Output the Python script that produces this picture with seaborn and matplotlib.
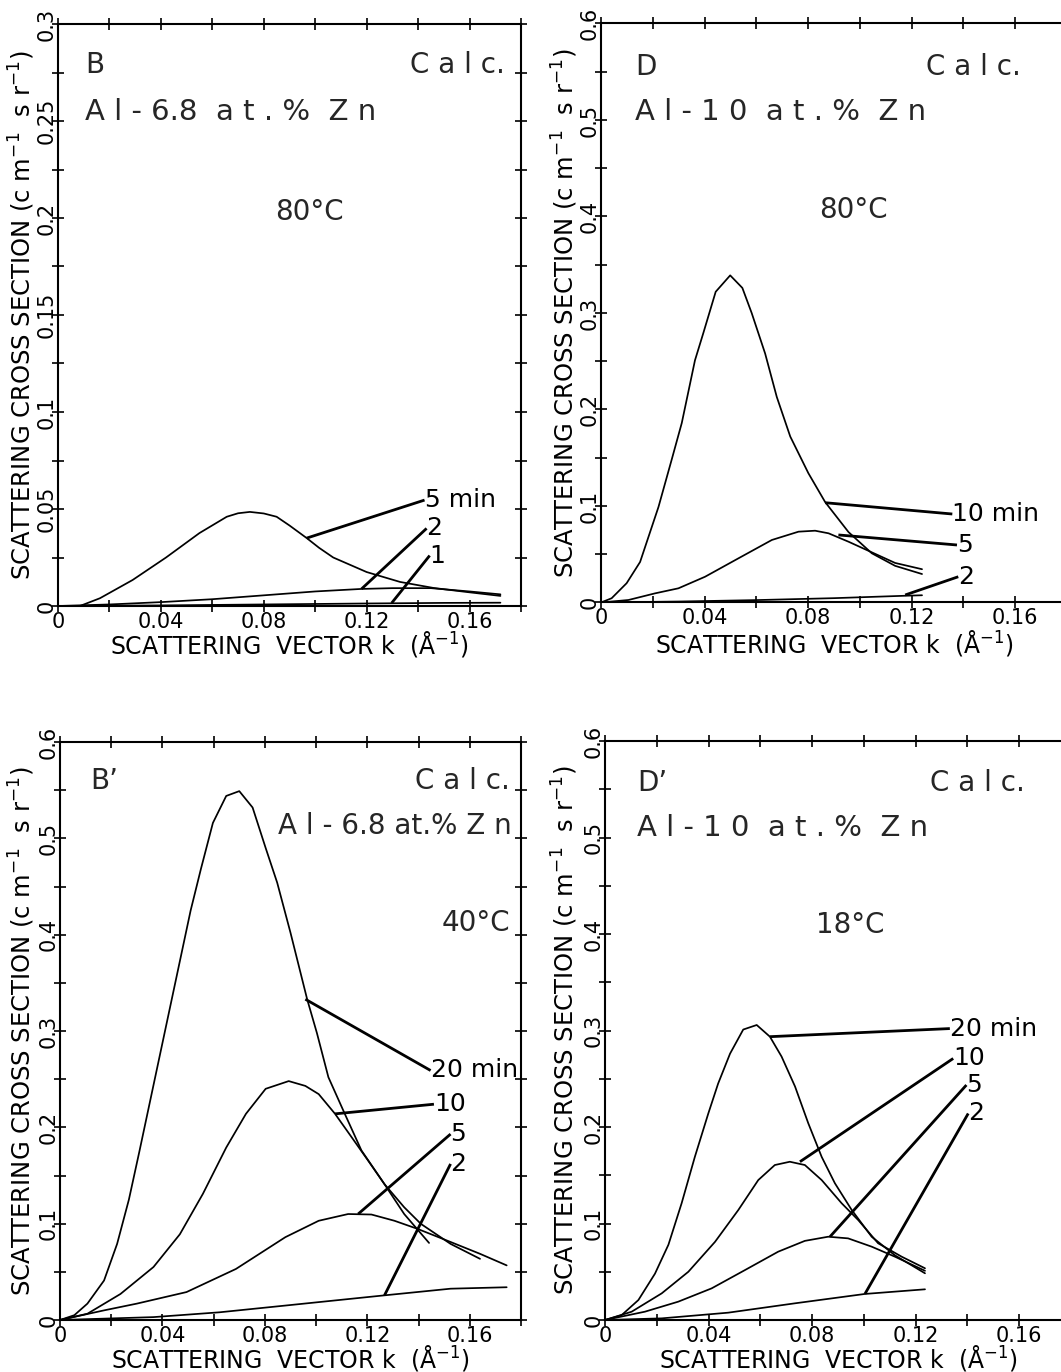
import matplotlib
matplotlib.use("Agg")
import matplotlib.pyplot as plt
import seaborn as sns
import pandas as pd
from matplotlib.ticker import MultipleLocator, FixedLocator, FixedFormatter

# ---------------- data ----------------
# Panel B : Al-6.8 at.% Zn, 80 C
B5_k = [0.0, 0.0085, 0.0163, 0.029, 0.042, 0.055, 0.0656, 0.070, 0.0746, 0.080, 0.085, 0.090, 0.0967, 0.1015,
        0.107, 0.120, 0.133, 0.146, 0.159, 0.172]
B5_v = [0.0, 0.0, 0.004, 0.0134, 0.025, 0.0376, 0.046, 0.0478, 0.0485, 0.0477, 0.046, 0.0415, 0.035, 0.030,
        0.025, 0.0175, 0.0124, 0.0093, 0.0072, 0.0052]
B2_k = [0.0, 0.02, 0.04, 0.06, 0.08, 0.10, 0.118, 0.13, 0.145, 0.16, 0.172]
B2_v = [0.0, 0.0008, 0.002, 0.0035, 0.0055, 0.0075, 0.0088, 0.0092, 0.0092, 0.0075, 0.006]
B1_k = [0.0, 0.04, 0.08, 0.12, 0.15, 0.172]
B1_v = [0.0, 0.0003, 0.0008, 0.0013, 0.0016, 0.0017]

# Panel D : Al-10 at.% Zn, 80 C
D10_k = [0.0, 0.0041, 0.0099, 0.0151, 0.0222, 0.0273, 0.0312, 0.0363, 0.0395, 0.0443, 0.0499, 0.0546, 0.0582,
         0.0634, 0.0679, 0.0731, 0.0801, 0.0866, 0.0956, 0.1046, 0.1136, 0.124]
D10_v = [0.0, 0.0044, 0.020, 0.042, 0.099, 0.148, 0.186, 0.251, 0.279, 0.322, 0.339, 0.326, 0.300,
         0.258, 0.213, 0.172, 0.134, 0.104, 0.073, 0.051, 0.038, 0.0295]
D5_k = [0.0, 0.0106, 0.0209, 0.0299, 0.0402, 0.0531, 0.066, 0.0763, 0.0827, 0.0879, 0.0956, 0.1046, 0.1136, 0.124]
D5_v = [0.0, 0.0026, 0.0095, 0.0147, 0.0267, 0.0458, 0.0648, 0.0734, 0.0744, 0.0717, 0.063, 0.052, 0.041, 0.0345]
D2_k = [0.0, 0.03, 0.06, 0.09, 0.1175, 0.124]
D2_v = [0.0, 0.001, 0.0025, 0.0045, 0.007, 0.0075]

# Panel B' : Al-6.8 at.% Zn, 40 C
P20_k = [0.0, 0.0056, 0.0107, 0.0172, 0.0223, 0.0269, 0.031, 0.035, 0.039, 0.043, 0.047, 0.051, 0.055,
         0.0597, 0.0649, 0.070, 0.0752, 0.0803, 0.0848, 0.090, 0.0965, 0.1003, 0.1048, 0.1112, 0.1177,
         0.1267, 0.1344, 0.1441]
P20_v = [0.0, 0.005, 0.017, 0.041, 0.079, 0.125, 0.175, 0.225, 0.275, 0.325, 0.375, 0.425, 0.468,
         0.516, 0.544, 0.549, 0.532, 0.490, 0.454, 0.402, 0.333, 0.298, 0.252, 0.214, 0.176,
         0.141, 0.110, 0.080]
P10_k = [0.0, 0.0107, 0.0236, 0.0365, 0.0468, 0.0558, 0.0649, 0.0726, 0.0803, 0.0893, 0.0958, 0.101, 0.1074,
         0.1138, 0.1203, 0.1267, 0.1344, 0.1409, 0.1525, 0.164]
P10_v = [0.0, 0.0065, 0.027, 0.055, 0.089, 0.131, 0.179, 0.214, 0.240, 0.248, 0.243, 0.2345, 0.214,
         0.19, 0.1655, 0.141, 0.117, 0.0998, 0.079, 0.0635]
P5_k = [0.0, 0.0172, 0.030, 0.0494, 0.0687, 0.088, 0.101, 0.1125, 0.1216, 0.1306, 0.1396, 0.1525, 0.164, 0.1744]
P5_v = [0.0, 0.010, 0.017, 0.029, 0.053, 0.086, 0.103, 0.110, 0.1095, 0.103, 0.0946, 0.081, 0.0687, 0.0567]
P2_k = [0.0, 0.0365, 0.0623, 0.088, 0.1267, 0.1525, 0.1744]
P2_v = [0.0, 0.003, 0.008, 0.015, 0.0256, 0.0325, 0.034]

# Panel D' : Al-10 at.% Zn, 18 C
Q20_k = [0.0, 0.0064, 0.0129, 0.0193, 0.0245, 0.0296, 0.0347, 0.0399, 0.0437, 0.0483, 0.0534, 0.0586, 0.0637,
         0.0682, 0.0734, 0.0785, 0.0837, 0.0888, 0.0953, 0.103, 0.112, 0.1236]
Q20_v = [0.0, 0.005, 0.0207, 0.048, 0.078, 0.121, 0.169, 0.214, 0.245, 0.276, 0.301, 0.3057, 0.2936,
         0.273, 0.242, 0.204, 0.169, 0.1417, 0.114, 0.0863, 0.067, 0.0484]
Q10_k = [0.0, 0.0103, 0.0219, 0.0322, 0.0425, 0.0515, 0.0592, 0.0656, 0.0714, 0.0772, 0.0837, 0.0914, 0.0978,
         0.1055, 0.1146, 0.1236]
Q10_v = [0.0, 0.0086, 0.0276, 0.050, 0.081, 0.114, 0.145, 0.1606, 0.164, 0.1606, 0.145, 0.121, 0.1036,
         0.0795, 0.0656, 0.0536]
Q5_k = [0.0, 0.0154, 0.0283, 0.0412, 0.0541, 0.0669, 0.0772, 0.0862, 0.0939, 0.103, 0.112, 0.1236]
Q5_v = [0.0, 0.0086, 0.019, 0.0328, 0.0518, 0.0708, 0.082, 0.0863, 0.0846, 0.076, 0.0656, 0.0510]
Q2_k = [0.0, 0.0219, 0.0476, 0.0734, 0.1004, 0.1236]
Q2_v = [0.0, 0.0017, 0.0076, 0.0173, 0.027, 0.0318]

# ticks
x_ticks = [0.0, 0.04, 0.08, 0.12, 0.16]
x_ticklabels = ["0", "0.04", "0.08", "0.12", "0.16"]
yB_ticks = [0.0, 0.05, 0.10, 0.15, 0.20, 0.25, 0.30]
yB_ticklabels = ["0", "0.05", "0.1", "0.15", "0.2", "0.25", "0.3"]
y6_ticks = [0.0, 0.1, 0.2, 0.3, 0.4, 0.5, 0.6]
y6_ticklabels = ["0", "0.1", "0.2", "0.3", "0.4", "0.5", "0.6"]

# curve labels (time in min)
B_times = ["5 min", "2", "1"]
D_times = ["10 min", "5", "2"]
P_times = ["20 min", "10", "5", "2"]
Q_times = ["20 min", "10", "5", "2"]

# ---------------- figure ----------------
sns.set_theme(style="ticks")
plt.rcParams["font.family"] = ["DejaVu Sans"]
plt.rcParams["mathtext.fontset"] = "dejavusans"

W, H = 1061, 1372
fig = plt.figure(figsize=(W / 100, H / 100), dpi=100)
fig.patch.set_facecolor("white")


def axes_px(x0, y0, x1, y1):
    # pixel box (left, bottom-of-data, right, top) -> figure fraction
    return fig.add_axes([x0 / W, 1 - y0 / H, (x1 - x0) / W, (y0 - y1) / H])


axB = axes_px(58, 606, 521, 24)
axD = axes_px(601, 602.5, 1067, 23.5)
axP = axes_px(60, 1320, 521, 742)
axQ = axes_px(605, 1320, 1071, 741)

TXT = "black"
lw_curve = 1.25
lw_lead = 2.0

XLAB = r"SCATTERING  VECTOR k  (Å$^{-1}$)"
YLAB = r"SCATTERING CROSS SECTION (c m$^{-1}$  s r$^{-1}$)"


def style_axis(ax, ymax, yticks, ylabels, yminor, ylab_x, xlab_y):
    ax.set_xlim(0, 0.18)
    ax.set_ylim(0, ymax)
    ax.set_facecolor("white")
    for s in ax.spines.values():
        s.set_visible(True)
        s.set_linewidth(1.5)
        s.set_color("black")
    ax.xaxis.set_major_locator(FixedLocator(x_ticks))
    ax.xaxis.set_major_formatter(FixedFormatter(x_ticklabels))
    ax.xaxis.set_minor_locator(MultipleLocator(0.02))
    ax.yaxis.set_major_locator(FixedLocator(yticks))
    ax.yaxis.set_major_formatter(FixedFormatter(ylabels))
    ax.yaxis.set_minor_locator(MultipleLocator(yminor))
    ax.tick_params(which="both", direction="inout", length=8, width=1.2, color="black",
                   top=True, right=True, labelsize=15, labelcolor=TXT)
    ax.tick_params(axis="x", pad=0)
    ax.tick_params(axis="y", labelrotation=90, pad=-3)
    for lab in ax.get_yticklabels():
        lab.set_va("center")
    ax.set_xlabel(XLAB, fontsize=17, color=TXT)
    ax.set_ylabel(YLAB, fontsize=17.5, color=TXT)
    ax.yaxis.set_label_coords(ylab_x, 0.5)
    ax.xaxis.set_label_coords(0.5, xlab_y)
    ax.xaxis.label.set_va("baseline")


def curve(ax, k, v):
    df = pd.DataFrame({"k": k, "v": v})
    sns.lineplot(data=df, x="k", y="v", ax=ax, color="black", lw=lw_curve, sort=False, estimator=None)


def leader(ax, p0, p1, label):
    ax.plot([p0[0], p1[0]], [p0[1], p1[1]], color="black", lw=lw_lead, solid_capstyle="butt")
    ax.text(p1[0], p1[1], label, ha="left", va="center", fontsize=18, color=TXT)


# ----- Panel B -----
for k, v in [(B5_k, B5_v), (B2_k, B2_v), (B1_k, B1_v)]:
    curve(axB, k, v)
style_axis(axB, 0.3, yB_ticks, yB_ticklabels, 0.025, -0.046, -0.0815)
leader(axB, (0.0967, 0.035), (0.1425, 0.0546), B_times[0])
leader(axB, (0.118, 0.0088), (0.1433, 0.040), B_times[1])
leader(axB, (0.1297, 0.0015), (0.1445, 0.026), B_times[2])
axB.text(0.0105, 0.279, "B", fontsize=20, ha="left", va="center")
axB.text(0.1736, 0.279, "C a l c.", fontsize=20, ha="right", va="center")
axB.text(0.0105, 0.2546, "A l - 6.8  a t . %  Z n", fontsize=21, ha="left", va="center")
axB.text(0.0979, 0.203, "80°C", fontsize=20, ha="center", va="center")

# ----- Panel D -----
for k, v in [(D10_k, D10_v), (D5_k, D5_v), (D2_k, D2_v)]:
    curve(axD, k, v)
style_axis(axD, 0.6, y6_ticks, y6_ticklabels, 0.05, -0.046, -0.0855)
leader(axD, (0.0866, 0.1034), (0.1357, 0.0917), D_times[0])
leader(axD, (0.0917, 0.070), (0.1375, 0.0596), D_times[1])
leader(axD, (0.1175, 0.0078), (0.138, 0.0267), D_times[2])
axD.text(0.0131, 0.555, "D", fontsize=20, ha="left", va="center")
axD.text(0.162, 0.555, "C a l c.", fontsize=20, ha="right", va="center")
axD.text(0.0131, 0.508, "A l - 1 0  a t . %  Z n", fontsize=21, ha="left", va="center")
axD.text(0.0974, 0.4067, "80°C", fontsize=20, ha="center", va="center")

# ----- Panel B' -----
for k, v in [(P20_k, P20_v), (P10_k, P10_v), (P5_k, P5_v), (P2_k, P2_v)]:
    curve(axP, k, v)
style_axis(axP, 0.6, y6_ticks, y6_ticklabels, 0.05, -0.050, -0.0820)
leader(axP, (0.0958, 0.333), (0.1447, 0.259), P_times[0])
leader(axP, (0.1074, 0.214), (0.146, 0.224), P_times[1])
leader(axP, (0.1164, 0.110), (0.1525, 0.193), P_times[2])
leader(axP, (0.1267, 0.0256), (0.1525, 0.162), P_times[3])
axP.text(0.0117, 0.5596, "B’", fontsize=20, ha="left", va="center")
axP.text(0.1757, 0.5596, "C a l c.", fontsize=20, ha="right", va="center")
axP.text(0.1765, 0.513, "A l - 6.8 at.% Z n", fontsize=20, ha="right", va="center")
axP.text(0.1757, 0.412, "40°C", fontsize=20, ha="right", va="center")

# ----- Panel D' -----
for k, v in [(Q20_k, Q20_v), (Q10_k, Q10_v), (Q5_k, Q5_v), (Q2_k, Q2_v)]:
    curve(axQ, k, v)
style_axis(axQ, 0.6, y6_ticks, y6_ticklabels, 0.05, -0.054, -0.0820)
leader(axQ, (0.0637, 0.2936), (0.1332, 0.302), Q_times[0])
leader(axQ, (0.0753, 0.164), (0.1345, 0.271), Q_times[1])
leader(axQ, (0.0869, 0.0863), (0.1396, 0.2435), Q_times[2])
leader(axQ, (0.1004, 0.027), (0.1403, 0.214), Q_times[3])
axQ.text(0.0124, 0.5565, "D’", fontsize=20, ha="left", va="center")
axQ.text(0.1622, 0.5565, "C a l c.", fontsize=20, ha="right", va="center")
axQ.text(0.0124, 0.51, "A l - 1 0  a t . %  Z n", fontsize=21, ha="left", va="center")
axQ.text(0.0946, 0.409, "18°C", fontsize=20, ha="center", va="center")

fig.savefig("out.png", dpi=100, facecolor="white")
